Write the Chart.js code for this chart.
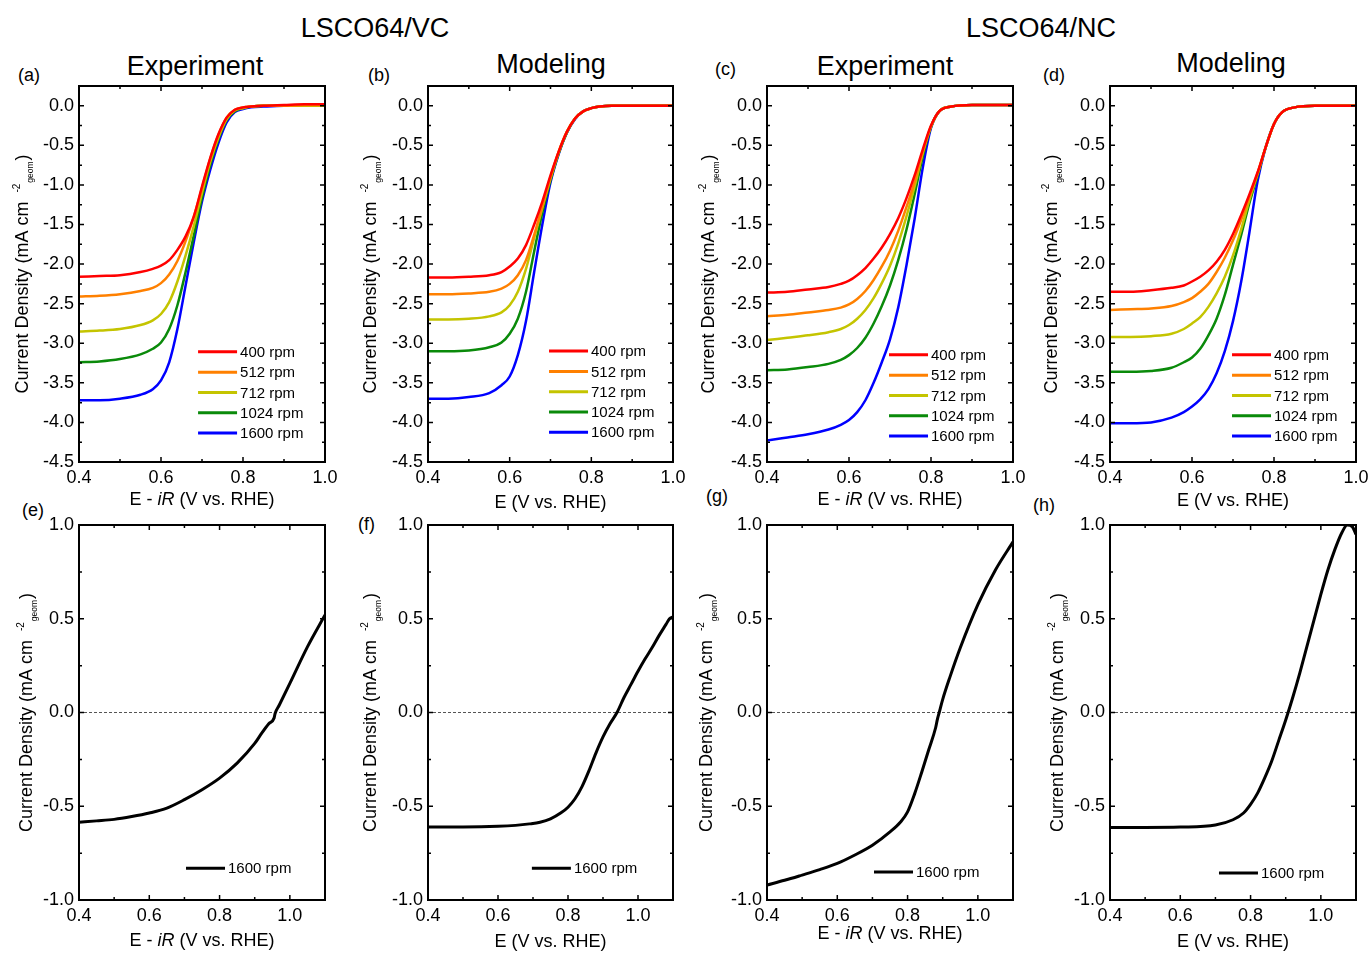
<!DOCTYPE html>
<html>
<head>
<meta charset="utf-8">
<script src="https://cdn.jsdelivr.net/npm/chart.js@4.4.1/dist/chart.umd.min.js"></script>
<style>
  body { margin: 0; background: #fff; width: 1370px; height: 955px; position: relative; overflow: hidden;
         font-family: "Liberation Sans", Arial, sans-serif; color: #000; }
  .txt { position: absolute; transform: translate(-50%, -50%); white-space: nowrap; line-height: 1; }
  .lbl { position: absolute; transform: translateY(-50%); white-space: nowrap; line-height: 1; font-size: 18px; }
  canvas { position: absolute; }
</style>
</head>
<body>
<div class="txt" style="left:375px;top:28px;font-size:27px">LSCO64/VC</div>
<div class="txt" style="left:1041px;top:28px;font-size:27px">LSCO64/NC</div>
<div class="txt" style="left:195px;top:66px;font-size:27px">Experiment</div>
<div class="txt" style="left:551px;top:64px;font-size:27px">Modeling</div>
<div class="txt" style="left:885px;top:66px;font-size:27px">Experiment</div>
<div class="txt" style="left:1231px;top:63px;font-size:27px">Modeling</div>
<div class="lbl" style="left:18px;top:75px">(a)</div>
<div class="lbl" style="left:368px;top:75px">(b)</div>
<div class="lbl" style="left:715px;top:69px">(c)</div>
<div class="lbl" style="left:1043px;top:75px">(d)</div>
<div class="lbl" style="left:22px;top:510px">(e)</div>
<div class="lbl" style="left:358px;top:524px">(f)</div>
<div class="lbl" style="left:706px;top:496px">(g)</div>
<div class="lbl" style="left:1033px;top:505px">(h)</div>

<script>
const FONT = '"Liberation Sans", Arial, sans-serif';

// potentials (V vs RHE) for the RDE sweeps
const topX = [0.40, 0.45, 0.50, 0.55, 0.58, 0.60, 0.62, 0.64, 0.66, 0.68, 0.70, 0.72, 0.74, 0.76, 0.78, 0.80, 0.82, 0.85, 0.90, 0.95, 1.00];
const rpmLabels = ['400 rpm', '512 rpm', '712 rpm', '1024 rpm', '1600 rpm'];
const rpmColors = ['#ff0000', '#ff8000', '#c4c400', '#0a8a0a', '#0000ff'];

// (a) LSCO64/VC experiment
const vcExp400  = [-2.16, -2.15, -2.14, -2.10, -2.06, -2.02, -1.95, -1.82, -1.65, -1.40, -1.02, -0.66, -0.36, -0.15, -0.05, -0.02, -0.01, 0.00, 0.01, 0.02, 0.02];
const vcExp512  = [-2.41, -2.40, -2.38, -2.34, -2.30, -2.24, -2.13, -1.96, -1.71, -1.40, -1.04, -0.67, -0.37, -0.15, -0.05, -0.02, -0.01, 0.00, 0.00, 0.01, 0.01];
const vcExp712  = [-2.85, -2.84, -2.82, -2.77, -2.71, -2.63, -2.48, -2.22, -1.89, -1.52, -1.10, -0.71, -0.40, -0.17, -0.06, -0.03, -0.01, 0.00, 0.00, 0.00, 0.00];
const vcExp1024 = [-3.24, -3.23, -3.20, -3.14, -3.07, -2.99, -2.82, -2.52, -2.10, -1.64, -1.16, -0.75, -0.42, -0.18, -0.07, -0.03, -0.01, 0.00, 0.00, 0.00, 0.00];
const vcExp1600 = [-3.72, -3.72, -3.70, -3.65, -3.58, -3.47, -3.24, -2.82, -2.27, -1.72, -1.21, -0.81, -0.47, -0.21, -0.08, -0.04, -0.02, -0.01, 0.00, 0.00, 0.00];

// (b) LSCO64/VC modeling
const vcMod400  = [-2.17, -2.17, -2.16, -2.14, -2.10, -2.03, -1.93, -1.76, -1.50, -1.21, -0.88, -0.58, -0.33, -0.16, -0.07, -0.03, -0.01, 0.00, 0.00, 0.00, 0.00];
const vcMod512  = [-2.38, -2.38, -2.37, -2.35, -2.31, -2.25, -2.14, -1.95, -1.63, -1.27, -0.90, -0.58, -0.33, -0.16, -0.07, -0.03, -0.01, 0.00, 0.00, 0.00, 0.00];
const vcMod712  = [-2.70, -2.70, -2.69, -2.66, -2.61, -2.52, -2.35, -2.06, -1.67, -1.29, -0.92, -0.59, -0.33, -0.16, -0.07, -0.03, -0.01, 0.00, 0.00, 0.00, 0.00];
const vcMod1024 = [-3.10, -3.10, -3.09, -3.05, -2.99, -2.88, -2.69, -2.35, -1.84, -1.35, -0.94, -0.60, -0.34, -0.16, -0.07, -0.03, -0.01, 0.00, 0.00, 0.00, 0.00];
const vcMod1600 = [-3.70, -3.70, -3.68, -3.63, -3.53, -3.42, -3.15, -2.72, -2.10, -1.50, -0.97, -0.61, -0.34, -0.17, -0.07, -0.03, -0.01, 0.00, 0.00, 0.00, 0.00];

// (c) LSCO64/NC experiment
const ncExp400  = [-2.36, -2.35, -2.32, -2.29, -2.25, -2.21, -2.14, -2.05, -1.93, -1.79, -1.62, -1.42, -1.17, -0.88, -0.55, -0.25, -0.07, -0.01, 0.01, 0.01, 0.01];
const ncExp512  = [-2.66, -2.64, -2.61, -2.58, -2.55, -2.51, -2.44, -2.34, -2.20, -2.03, -1.83, -1.58, -1.28, -0.96, -0.58, -0.26, -0.07, -0.01, 0.01, 0.01, 0.01];
const ncExp712  = [-2.96, -2.93, -2.90, -2.86, -2.82, -2.77, -2.69, -2.58, -2.43, -2.24, -2.02, -1.74, -1.40, -1.02, -0.60, -0.26, -0.07, -0.01, 0.01, 0.01, 0.01];
const ncExp1024 = [-3.34, -3.33, -3.30, -3.26, -3.21, -3.15, -3.06, -2.93, -2.75, -2.53, -2.27, -1.95, -1.57, -1.12, -0.64, -0.27, -0.07, -0.01, 0.01, 0.01, 0.01];
const ncExp1600 = [-4.23, -4.19, -4.15, -4.09, -4.03, -3.97, -3.87, -3.72, -3.50, -3.24, -2.95, -2.55, -2.02, -1.43, -0.78, -0.28, -0.07, -0.01, 0.01, 0.01, 0.01];

// (d) LSCO64/NC modeling
const ncMod400  = [-2.35, -2.35, -2.33, -2.30, -2.27, -2.22, -2.16, -2.08, -1.97, -1.82, -1.62, -1.38, -1.12, -0.84, -0.52, -0.23, -0.08, -0.02, 0.00, 0.00, 0.00];
const ncMod512  = [-2.58, -2.57, -2.56, -2.53, -2.48, -2.43, -2.35, -2.25, -2.10, -1.92, -1.70, -1.44, -1.15, -0.85, -0.52, -0.23, -0.08, -0.02, 0.00, 0.00, 0.00];
const ncMod712  = [-2.92, -2.92, -2.91, -2.88, -2.82, -2.75, -2.67, -2.54, -2.37, -2.16, -1.89, -1.56, -1.19, -0.86, -0.52, -0.23, -0.08, -0.02, 0.00, 0.00, 0.00];
const ncMod1024 = [-3.36, -3.36, -3.35, -3.31, -3.24, -3.18, -3.07, -2.90, -2.69, -2.39, -2.01, -1.63, -1.23, -0.88, -0.52, -0.23, -0.08, -0.02, 0.00, 0.00, 0.00];
const ncMod1600 = [-4.01, -4.01, -4.00, -3.94, -3.87, -3.80, -3.71, -3.58, -3.38, -3.10, -2.72, -2.22, -1.60, -0.95, -0.52, -0.23, -0.08, -0.02, 0.00, 0.00, 0.00];

// (e)-(h) 1600 rpm, wider window
const vcExpWideX = [0.40, 0.45, 0.50, 0.55, 0.60, 0.65, 0.70, 0.75, 0.80, 0.85, 0.90, 0.92, 0.94, 0.955, 0.958, 0.97, 1.00, 1.05, 1.10];
const vcExpWideY = [-0.585, -0.578, -0.570, -0.555, -0.536, -0.51, -0.465, -0.412, -0.35, -0.27, -0.165, -0.11, -0.06, -0.03, -0.005, 0.04, 0.155, 0.35, 0.52];
const vcModWideX = [0.40, 0.50, 0.60, 0.65, 0.69, 0.72, 0.75, 0.78, 0.80, 0.82, 0.84, 0.86, 0.88, 0.90, 0.92, 0.94, 0.96, 0.98, 1.00, 1.02, 1.04, 1.06, 1.08, 1.09, 1.10];
const vcModWideY = [-0.61, -0.61, -0.607, -0.602, -0.594, -0.585, -0.567, -0.535, -0.505, -0.46, -0.395, -0.31, -0.215, -0.13, -0.06, 0.00, 0.08, 0.15, 0.22, 0.285, 0.345, 0.41, 0.47, 0.50, 0.51];
const ncExpWideX = [0.40, 0.45, 0.50, 0.55, 0.60, 0.65, 0.70, 0.75, 0.78, 0.80, 0.82, 0.84, 0.86, 0.88, 0.885, 0.89, 0.90, 0.92, 0.95, 1.00, 1.05, 1.10];
const ncExpWideY = [-0.92, -0.895, -0.867, -0.838, -0.805, -0.76, -0.708, -0.637, -0.584, -0.53, -0.434, -0.32, -0.20, -0.08, -0.035, 0.00, 0.07, 0.186, 0.345, 0.575, 0.76, 0.91];
const ncModWideX = [0.40, 0.50, 0.60, 0.70, 0.75, 0.78, 0.80, 0.82, 0.84, 0.86, 0.88, 0.90, 0.92, 0.94, 0.96, 0.98, 1.00, 1.02, 1.04, 1.06, 1.075, 1.09, 1.10];
const ncModWideY = [-0.613, -0.613, -0.611, -0.60, -0.572, -0.536, -0.49, -0.43, -0.35, -0.26, -0.15, -0.04, 0.08, 0.21, 0.35, 0.49, 0.63, 0.76, 0.87, 0.96, 1.00, 0.99, 0.95];

// tick positions
const xTicks = [0.4, 0.6, 0.8, 1.0];
const xMinor = [0.5, 0.7, 0.9];
const topYTicks = [-4.5, -4.0, -3.5, -3.0, -2.5, -2.0, -1.5, -1.0, -0.5, 0.0];
const topYMinor = [-4.25, -3.75, -3.25, -2.75, -2.25, -1.75, -1.25, -0.75, -0.25];
const botYTicks = [-1.0, -0.5, 0.0, 0.5, 1.0];
const botYMinor = [-0.75, -0.25, 0.25, 0.75];

function rpmSet(arrays) {
    return arrays.map((ys, i) => ({
        label: rpmLabels[i],
        data: topX.map((x, j) => ({ x: x, y: ys[j] })),
        borderColor: rpmColors[i],
        borderWidth: 2.5
    }));
}

function wideSet(xs, ys) {
    return [{
        label: '1600 rpm',
        data: xs.map((x, j) => ({ x: x, y: ys[j] })),
        borderColor: '#000',
        borderWidth: 3
    }];
}

// plot box = [left, top, width, height] in page pixels
const panels = [
    { box: [79, 86, 246, 376], top: true, eir: true, yOff: 51, xOff: 38, leg: [0.484, 0.707], sets: rpmSet([vcExp400, vcExp512, vcExp712, vcExp1024, vcExp1600]) },
    { box: [428, 86, 245, 376], top: true, eir: false, yOff: 52, xOff: 41, leg: [0.494, 0.705], sets: rpmSet([vcMod400, vcMod512, vcMod712, vcMod1024, vcMod1600]) },
    { box: [767, 86, 246, 376], top: true, eir: true, yOff: 53, xOff: 38, leg: [0.496, 0.715], sets: rpmSet([ncExp400, ncExp512, ncExp712, ncExp1024, ncExp1600]) },
    { box: [1110, 86, 246, 376], top: true, eir: false, yOff: 53, xOff: 39, leg: [0.496, 0.715], sets: rpmSet([ncMod400, ncMod512, ncMod712, ncMod1024, ncMod1600]) },
    { box: [79, 525, 246, 375], top: false, eir: true, yOff: 47, xOff: 41, leg: [0.435, 0.915], sets: wideSet(vcExpWideX, vcExpWideY) },
    { box: [428, 525, 245, 375], top: false, eir: false, yOff: 52, xOff: 42, leg: [0.424, 0.915], sets: wideSet(vcModWideX, vcModWideY) },
    { box: [767, 525, 246, 375], top: false, eir: true, yOff: 55, xOff: 34, leg: [0.435, 0.925], sets: wideSet(ncExpWideX, ncExpWideY) },
    { box: [1110, 525, 246, 375], top: false, eir: false, yOff: 47, xOff: 42, leg: [0.443, 0.928], sets: wideSet(ncModWideX, ncModWideY) }
];

function drawYTitle(ctx, x, cy) {
    ctx.save();
    ctx.translate(x, cy);
    ctx.rotate(-Math.PI / 2);
    ctx.fillStyle = '#000';
    ctx.textAlign = 'left';
    ctx.textBaseline = 'alphabetic';
    const main = 'Current Density (mA cm';
    ctx.font = '18px ' + FONT;
    const wMain = ctx.measureText(main).width;
    const wClose = ctx.measureText(')').width;
    ctx.font = '10px ' + FONT;
    const wSup = ctx.measureText('-2').width;
    ctx.font = '8.5px ' + FONT;
    const wSub = ctx.measureText('geom').width;
    const gap = 9;
    const total = wMain + gap + wSup + 1 + wSub + 1 + wClose;
    let px = -total / 2;
    ctx.font = '18px ' + FONT;
    ctx.fillText(main, px, 0);
    px += wMain + gap;
    ctx.font = '10px ' + FONT;
    ctx.fillText('-2', px, -8);
    px += wSup + 1;
    ctx.font = '8.5px ' + FONT;
    ctx.fillText('geom', px, 5);
    px += wSub + 1;
    ctx.font = '18px ' + FONT;
    ctx.fillText(')', px, 0);
    ctx.restore();
}

function drawXTitle(ctx, cx, cy, eir) {
    const parts = eir
        ? [['E - ', ''], ['iR', 'italic '], [' (V vs. RHE)', '']]
        : [['E (V vs. RHE)', '']];
    ctx.save();
    ctx.fillStyle = '#000';
    ctx.textAlign = 'left';
    ctx.textBaseline = 'middle';
    let total = 0;
    parts.forEach(p => { ctx.font = p[1] + '18px ' + FONT; total += ctx.measureText(p[0]).width; });
    let px = cx - total / 2;
    parts.forEach(p => {
        ctx.font = p[1] + '18px ' + FONT;
        ctx.fillText(p[0], px, cy);
        px += ctx.measureText(p[0]).width;
    });
    ctx.restore();
}

const framePlugin = {
    id: 'frame',
    beforeDatasetsDraw(chart, args, opts) {
        if (opts.top) return;
        const ctx = chart.ctx, a = chart.chartArea;
        const y0 = chart.scales.y.getPixelForValue(0);
        ctx.save();
        ctx.strokeStyle = '#555';
        ctx.lineWidth = 1;
        ctx.setLineDash([3, 2]);
        ctx.beginPath();
        ctx.moveTo(a.left, y0);
        ctx.lineTo(a.right, y0);
        ctx.stroke();
        ctx.restore();
    },
    afterDraw(chart, args, opts) {
        const ctx = chart.ctx, a = chart.chartArea;
        const xs = chart.scales.x, ys = chart.scales.y;
        ctx.save();
        ctx.strokeStyle = '#000';
        ctx.lineWidth = 1.5;
        ctx.beginPath();
        const xt = (vals, len) => vals.forEach(v => {
            const p = xs.getPixelForValue(v);
            ctx.moveTo(p, a.bottom); ctx.lineTo(p, a.bottom - len);
            ctx.moveTo(p, a.top); ctx.lineTo(p, a.top + len);
        });
        const yt = (vals, len) => vals.forEach(v => {
            const p = ys.getPixelForValue(v);
            ctx.moveTo(a.left, p); ctx.lineTo(a.left + len, p);
            ctx.moveTo(a.right, p); ctx.lineTo(a.right - len, p);
        });
        xt(xTicks, 5); xt(xMinor, 3);
        yt(opts.top ? topYTicks : botYTicks, 5);
        yt(opts.top ? topYMinor : botYMinor, 3);
        ctx.stroke();
        ctx.lineWidth = 2;
        ctx.strokeRect(a.left, a.top, a.right - a.left, a.bottom - a.top);

        // legend inside the plot
        const lx = a.left + opts.leg[0] * (a.right - a.left);
        let ly = a.top + opts.leg[1] * (a.bottom - a.top);
        ctx.font = '15px ' + FONT;
        ctx.textAlign = 'left';
        ctx.textBaseline = 'middle';
        ctx.fillStyle = '#000';
        chart.data.datasets.forEach(ds => {
            ctx.strokeStyle = ds.borderColor;
            ctx.lineWidth = 3;
            ctx.beginPath();
            ctx.moveTo(lx, ly); ctx.lineTo(lx + 39, ly);
            ctx.stroke();
            ctx.fillText(ds.label, lx + 42, ly + 1);
            ly += 20.3;
        });

        drawYTitle(ctx, a.left - opts.yOff, (a.top + a.bottom) / 2);
        drawXTitle(ctx, (a.left + a.right) / 2, a.bottom + opts.xOff, opts.eir);
        ctx.restore();
    }
};

panels.forEach(p => {
    const [l, t, w, h] = p.box;
    const cv = document.createElement('canvas');
    cv.width = w + 100;
    cv.height = h + 78;
    cv.style.left = (l - 80) + 'px';
    cv.style.top = (t - 20) + 'px';
    document.body.appendChild(cv);

    new Chart(cv.getContext('2d'), {
        type: 'line',
        data: { datasets: p.sets },
        options: {
            responsive: false,
            animation: false,
            devicePixelRatio: 1,
            layout: { padding: { left: 0, top: 20, right: 20, bottom: 18 } },
            elements: { point: { radius: 0 }, line: { cubicInterpolationMode: 'monotone', fill: false } },
            plugins: {
                legend: { display: false },
                tooltip: { enabled: false },
                frame: { top: p.top, eir: p.eir, yOff: p.yOff, xOff: p.xOff, leg: p.leg }
            },
            scales: {
                x: {
                    type: 'linear',
                    min: 0.4,
                    max: p.top ? 1.0 : 1.1,
                    afterBuildTicks: s => { s.ticks = xTicks.map(v => ({ value: v })); },
                    afterFit: s => { s.height = 40; },
                    grid: { display: false, drawTicks: false },
                    border: { display: false },
                    ticks: { autoSkip: false, maxRotation: 0, padding: 5, color: '#000',
                             font: { size: 18, family: FONT }, callback: v => v.toFixed(1) }
                },
                y: {
                    type: 'linear',
                    min: p.top ? -4.5 : -1.0,
                    max: p.top ? 0.25 : 1.0,
                    afterBuildTicks: s => { s.ticks = (p.top ? topYTicks : botYTicks).map(v => ({ value: v })); },
                    afterFit: s => { s.width = 80; },
                    grid: { display: false, drawTicks: false },
                    border: { display: false },
                    ticks: { autoSkip: false, padding: 5, color: '#000',
                             font: { size: 18, family: FONT }, callback: v => v.toFixed(1) }
                }
            }
        },
        plugins: [framePlugin]
    });
});
</script>
</body>
</html>
